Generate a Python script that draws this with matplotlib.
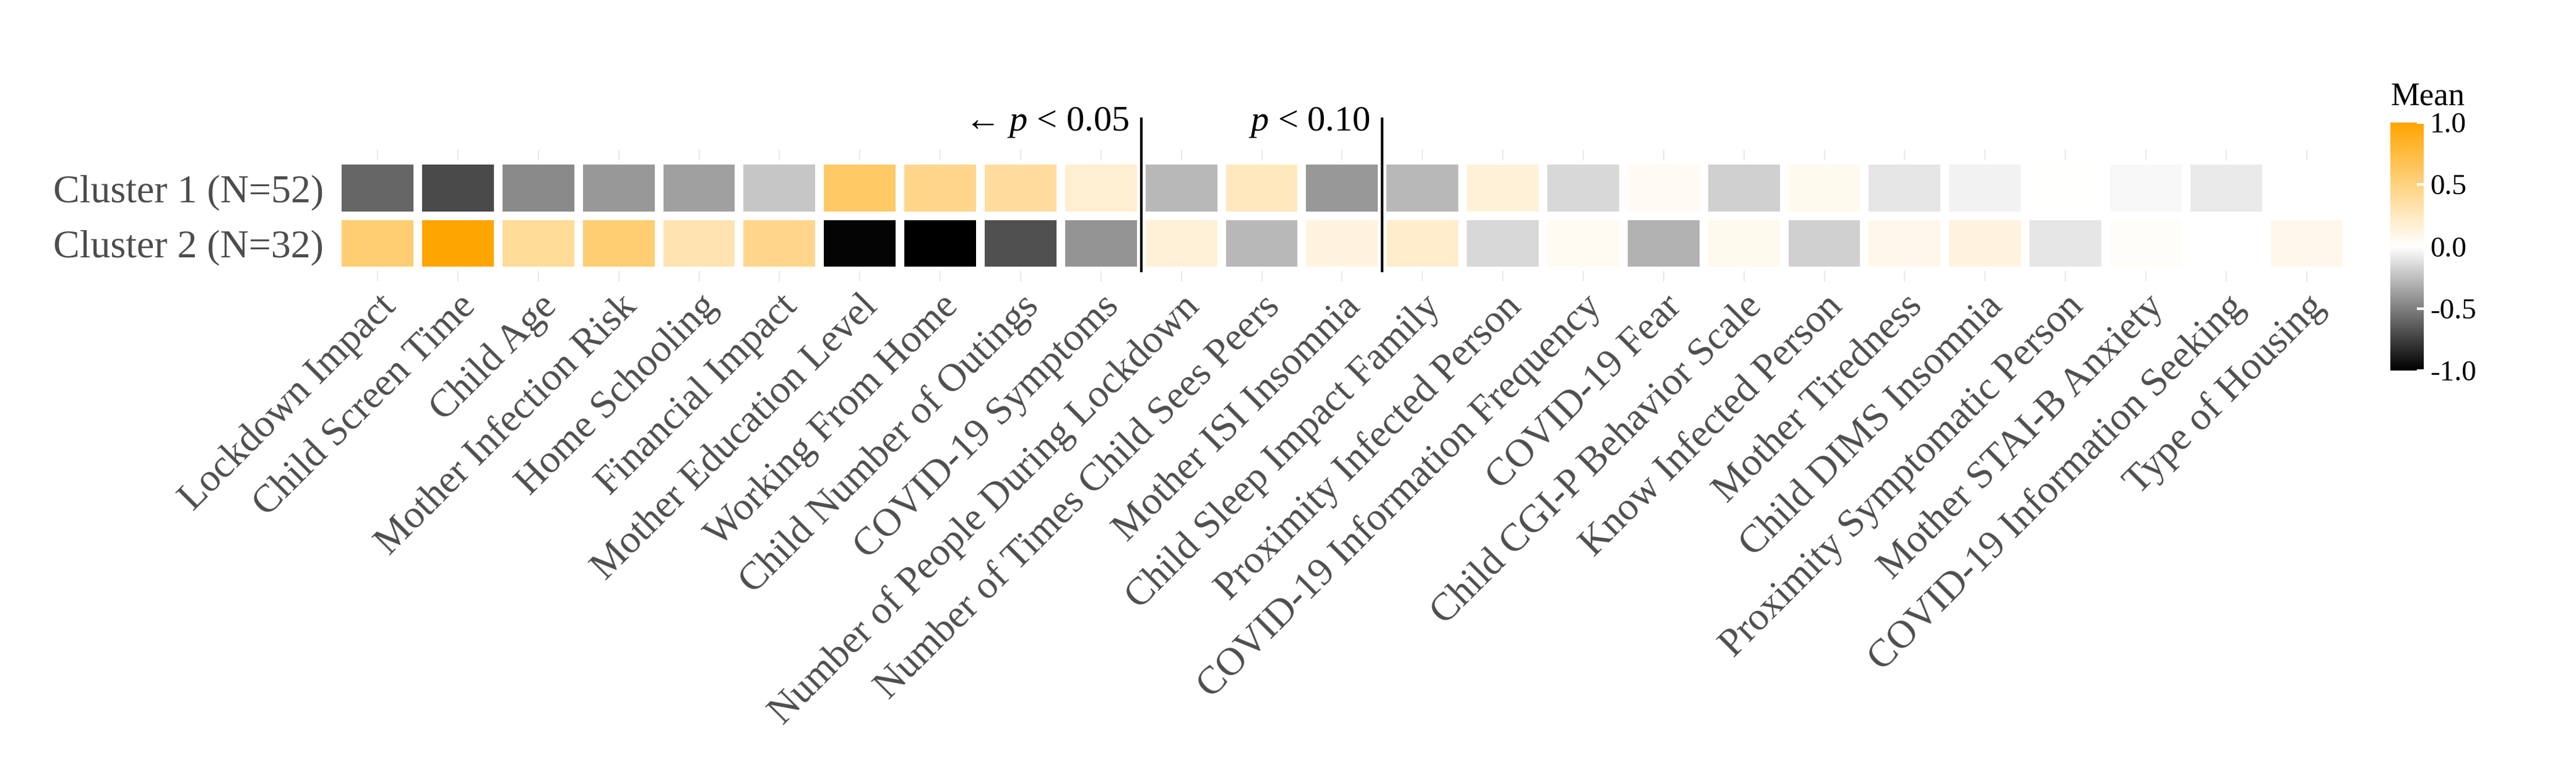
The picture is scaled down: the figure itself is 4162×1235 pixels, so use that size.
import numpy as np
import matplotlib
matplotlib.use("Agg")
import matplotlib.pyplot as plt
from matplotlib.colors import LinearSegmentedColormap

variables = [
    "Lockdown Impact", "Child Screen Time", "Child Age", "Mother Infection Risk",
    "Home Schooling", "Financial Impact", "Mother Education Level", "Working From Home",
    "Child Number of Outings", "COVID-19 Symptoms", "Number of People During Lockdown",
    "Number of Times Child Sees Peers", "Mother ISI Insomnia", "Child Sleep Impact Family",
    "Proximity Infected Person", "COVID-19 Information Frequency", "COVID-19 Fear",
    "Child CGI-P Behavior Scale", "Know Infected Person", "Mother Tiredness",
    "Child DIMS Insomnia", "Proximity Symptomatic Person", "Mother STAI-B Anxiety",
    "COVID-19 Information Seeking", "Type of Housing",
]
clusters = ["Cluster 1 (N=52)", "Cluster 2 (N=32)"]
cluster1 = [-0.60, -0.71, -0.46, -0.40, -0.37, -0.22, 0.60, 0.45, 0.38, 0.18,
            -0.28, 0.25, -0.40, -0.28, 0.15, -0.15, 0.04, -0.18, 0.07, -0.10,
            -0.05, 0.0, -0.03, -0.08, np.nan]
cluster2 = [0.55, 1.00, 0.40, 0.55, 0.30, 0.45, -0.98, -1.00, -0.68, -0.42,
            0.15, -0.28, 0.12, 0.20, -0.15, 0.05, -0.30, 0.07, -0.18, 0.08,
            0.12, -0.10, 0.03, np.nan, 0.08]

serif = "Liberation Serif"
plt.rcParams["mathtext.fontset"] = "custom"
plt.rcParams["mathtext.rm"] = serif
plt.rcParams["mathtext.it"] = serif + ":italic"
cmap = LinearSegmentedColormap.from_list("mean", ["#000000", "#ffffff", "#ffa500"])

fig = plt.figure(figsize=(20.81, 6.175), dpi=200)
ax = fig.add_axes([0.131, 0.645, 0.78, 0.145])
data = np.ma.masked_invalid(np.array([cluster1, cluster2]))
mesh = ax.pcolormesh(np.arange(len(variables) + 1), np.arange(3), data, cmap=cmap,
                     vmin=-1, vmax=1, edgecolors="white", linewidth=5)
ax.set_xlim(0, len(variables))
ax.set_ylim(2, 0)
ax.set_xticks(np.arange(len(variables)) + 0.5)
ax.set_xticklabels(variables, rotation=45, ha="right", rotation_mode="anchor",
                   fontsize=23, family=serif, color="#4d4d4d")
ax.set_yticks([0.5, 1.5])
ax.set_yticklabels(clusters, fontsize=23, family=serif, color="#4d4d4d")
ax.tick_params(axis="x", length=6, color="#ebebeb", top=True, pad=4)
ax.tick_params(axis="y", length=0, pad=8)
for s in ax.spines.values():
    s.set_visible(False)

# significance separators
for xpos, label, arrow in [(10, "$p$ < 0.05", True), (13, "$p$ < 0.10", False)]:
    ax.plot([xpos, xpos], [2, -0.75], color="black", lw=1.5, clip_on=False)
    ax.text(xpos - 0.15, -0.38, ("\u2190 " if arrow else "") + label, ha="right", va="bottom",
            fontsize=21, family=serif)

cax = fig.add_axes([0.928, 0.515, 0.013, 0.325])
cb = fig.colorbar(mesh, cax=cax, ticks=[-1, -0.5, 0, 0.5, 1])
cb.ax.set_yticklabels(["-1.0", "-0.5", "0.0", "0.5", "1.0"], family=serif, fontsize=17)
cb.outline.set_visible(False)
cb.ax.tick_params(length=4, color="white", width=1.5, direction="in")
cax.set_title("Mean", family=serif, fontsize=19, loc="left", pad=10)

fig.savefig("out.png", dpi=200)
